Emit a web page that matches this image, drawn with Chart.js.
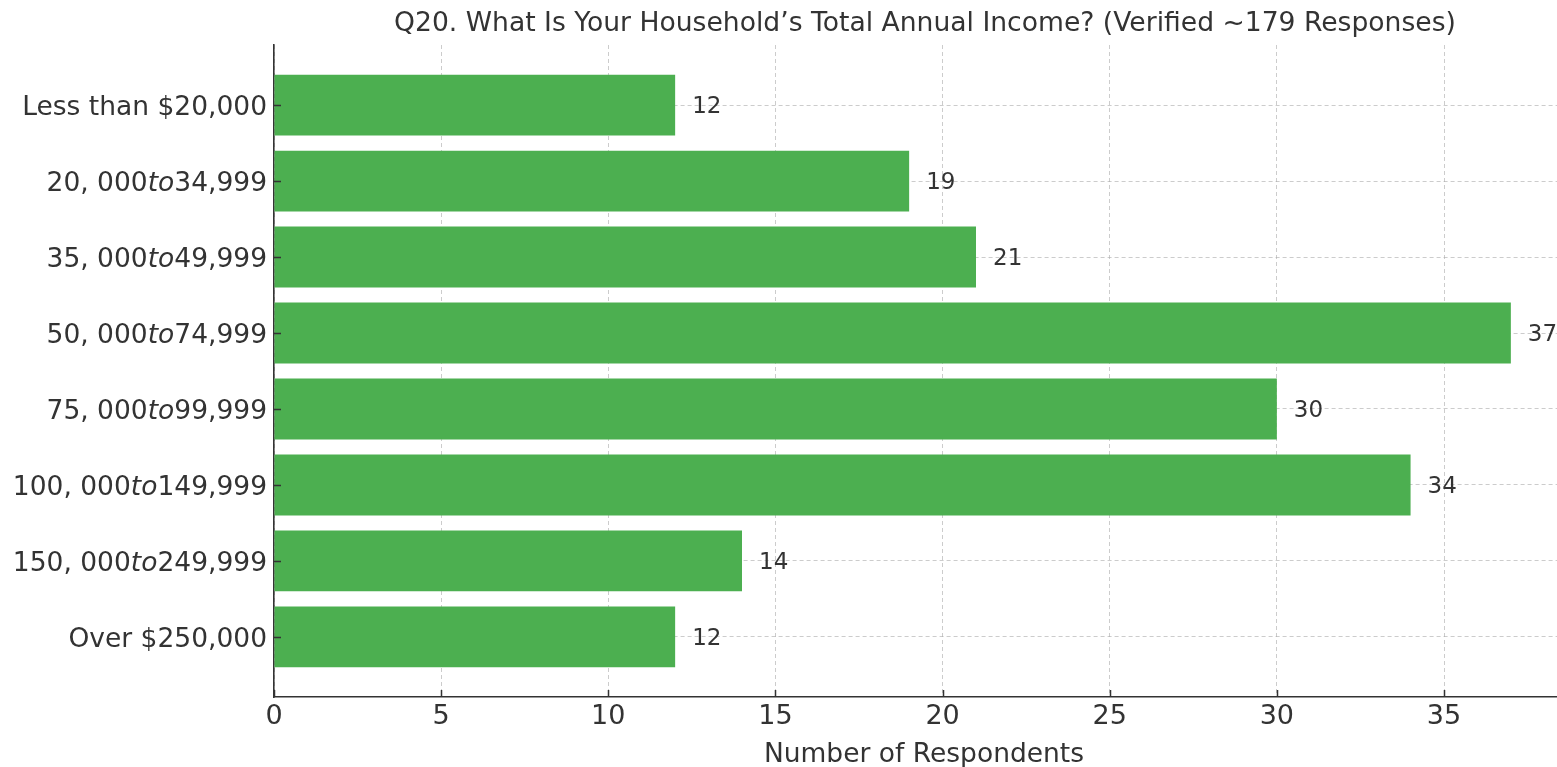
<!DOCTYPE html>
<html>
<head>
<meta charset="utf-8">
<script src="https://cdn.jsdelivr.net/npm/chart.js@4.4.1/dist/chart.umd.min.js"></script>
<style>
  html, body { margin: 0; padding: 0; background: #ffffff; overflow: hidden; }
  #wrap { width: 1557px; height: 767px; position: relative; }
</style>
</head>
<body>
<div id="wrap"><canvas id="c" width="1557" height="767"></canvas></div>
<script>
// ---- Data ----
const titleText = "Q20. What Is Your Household\u2019s Total Annual Income? (Verified ~179 Responses)";
const xAxisTitle = "Number of Respondents";
const categories = [
  "Less than $20,000",
  "$20,000 to $34,999",
  "$35,000 to $49,999",
  "$50,000 to $74,999",
  "$75,000 to $99,999",
  "$100,000 to $149,999",
  "$150,000 to $249,999",
  "Over $250,000"
];
// how each label is rendered (matplotlib mathtext look): [text, italic?]
const labelParts = [
  [["Less than $20,000", false]],
  [["20, 000", false], ["to", true], ["34,999", false]],
  [["35, 000", false], ["to", true], ["49,999", false]],
  [["50, 000", false], ["to", true], ["74,999", false]],
  [["75, 000", false], ["to", true], ["99,999", false]],
  [["100, 000", false], ["to", true], ["149,999", false]],
  [["150, 000", false], ["to", true], ["249,999", false]],
  [["Over $250,000", false]]
];
const respondents = [12, 19, 21, 37, 30, 34, 14, 12];
const xTicks = [0, 5, 10, 15, 20, 25, 30, 35];

const FONT = "'DejaVu Sans', 'Liberation Sans', sans-serif";
const TXT = "#333333";
const BAR = "#4CAF50";
const GRID = "rgba(170,170,170,0.6)";

const points = respondents.map((v, i) => ({ x: v, y: i }));

const overlay = {
  id: 'overlay',
  afterDraw(chart) {
    const ctx = chart.ctx;
    const xs = chart.scales.x, ys = chart.scales.y;
    const area = chart.chartArea;
    ctx.save();
    // inward tick marks
    ctx.strokeStyle = TXT;
    ctx.lineWidth = 1.5;
    ctx.beginPath();
    xTicks.forEach(t => {
      const px = Math.round(xs.getPixelForValue(t)) + 0.5;
      ctx.moveTo(px, area.bottom);
      ctx.lineTo(px, area.bottom - 7);
    });
    categories.forEach((c, i) => {
      const py = Math.round(ys.getPixelForValue(i)) + 0.5;
      ctx.moveTo(area.left, py);
      ctx.lineTo(area.left + 7, py);
    });
    ctx.stroke();

    // category labels (mixed upright / italic)
    ctx.fillStyle = TXT;
    ctx.textBaseline = 'alphabetic';
    ctx.textAlign = 'left';
    const fs = 26.5;
    labelParts.forEach((parts, i) => {
      let total = 0;
      const widths = parts.map(([t, it]) => {
        ctx.font = (it ? 'italic ' : '') + fs + 'px ' + FONT;
        const w = ctx.measureText(t).width;
        total += w;
        return w;
      });
      let x = 267 - total;
      const y = ys.getPixelForValue(i) + 9.8;
      parts.forEach(([t, it], k) => {
        ctx.font = (it ? 'italic ' : '') + fs + 'px ' + FONT;
        ctx.fillText(t, x, y);
        x += widths[k];
      });
    });

    // value labels
    ctx.font = '23px ' + FONT;
    ctx.textAlign = 'left';
    respondents.forEach((v, i) => {
      const px = xs.getPixelForValue(v) + 17;
      const py = ys.getPixelForValue(i) + 8;
      ctx.fillText(String(v), px, py);
    });

    // title
    ctx.font = '26.6px ' + FONT;
    ctx.textAlign = 'center';
    ctx.fillText(titleText, 925, 31);

    // x axis title
    ctx.font = '26.5px ' + FONT;
    ctx.fillText(xAxisTitle, 924, 762);
    ctx.restore();
  }
};

new Chart(document.getElementById('c'), {
  type: 'bar',
  data: {
    datasets: [{
      data: points,
      backgroundColor: BAR,
      borderWidth: 0,
      categoryPercentage: 1.0,
      barPercentage: 0.8
    }]
  },
  options: {
    indexAxis: 'y',
    responsive: false,
    animation: false,
    events: [],
    layout: { padding: { left: 0, top: 45, right: 0, bottom: 0 } },
    plugins: {
      legend: { display: false },
      title: { display: false },
      tooltip: { enabled: false }
    },
    scales: {
      x: {
        type: 'linear',
        position: 'bottom',
        min: 0,
        max: 35 * (1557 - 274) / (1444 - 274),
        z: 1,
        afterFit(scale) { scale.height = 70; },
        afterBuildTicks(scale) { scale.ticks = xTicks.map(v => ({ value: v })); },
        ticks: {
          color: TXT,
          font: { family: FONT, size: 27 },
          padding: 4,
          maxRotation: 0,
          autoSkip: false
        },
        grid: {
          color: GRID,
          lineWidth: 1,
          drawTicks: false
        },
        border: { display: true, color: TXT, width: 1.6, dash: [4, 3] }
      },
      y: {
        type: 'linear',
        position: 'left',
        reverse: true,
        min: -0.79,
        max: 7.79,
        offset: false,
        z: 1,
        afterFit(scale) { scale.width = 274; },
        afterBuildTicks(scale) { scale.ticks = categories.map((c, i) => ({ value: i })); },
        ticks: { display: false },
        grid: {
          color: GRID,
          lineWidth: 1,
          drawTicks: false,
          offset: false
        },
        border: { display: true, color: TXT, width: 1.6, dash: [4, 3] }
      }
    }
  },
  plugins: [overlay]
});
</script>
</body>
</html>
